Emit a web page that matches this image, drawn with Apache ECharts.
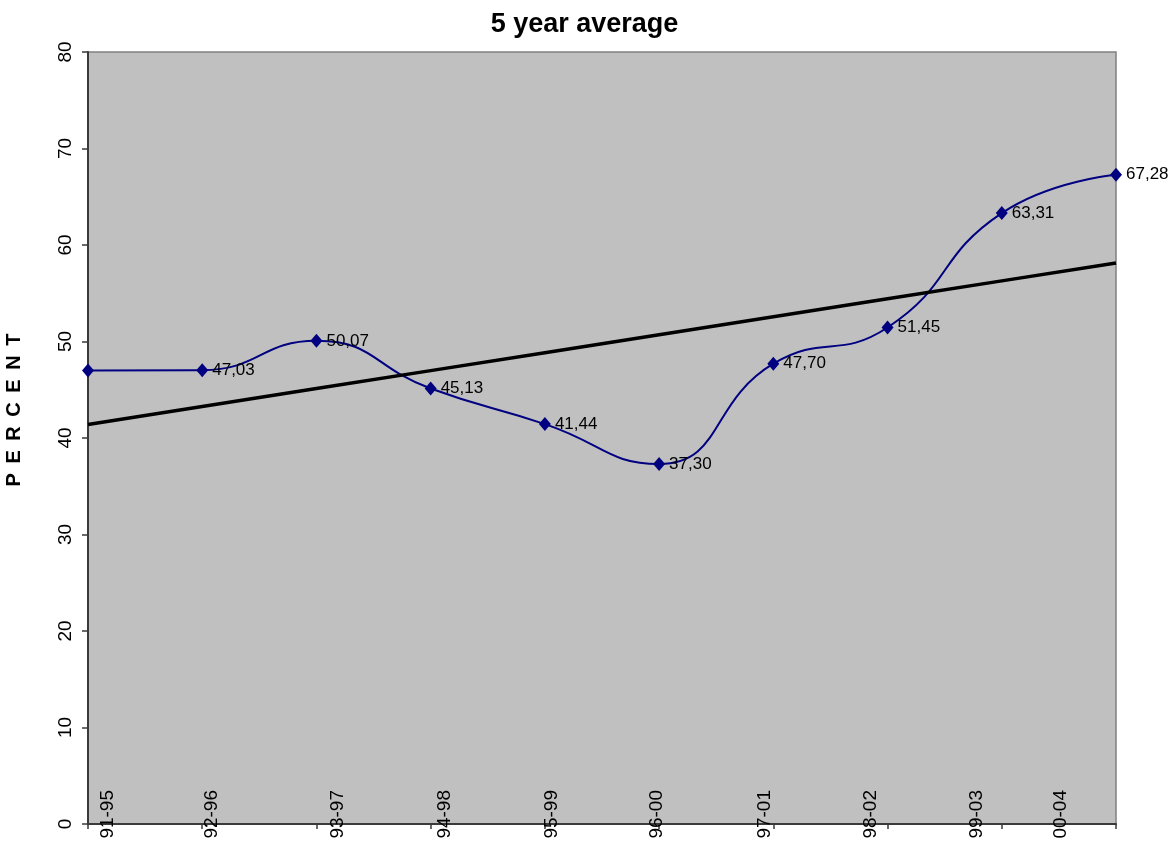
<!DOCTYPE html>
<html>
<head>
<meta charset="utf-8">
<script src="https://cdn.jsdelivr.net/npm/echarts@6/dist/echarts.min.js"></script>
<style>
  html, body { margin: 0; padding: 0; background: #ffffff; }
  #chart { width: 1169px; height: 843px; }
</style>
</head>
<body>
<div id="chart"></div>
<script>
// Rolling five-year periods
const categories = ['91-95', '92-96', '93-97', '94-98', '95-99', '96-00', '97-01', '98-02', '99-03', '00-04'];
// Five-year average, percent
const values = [47.00, 47.03, 50.07, 45.13, 41.44, 37.30, 47.70, 51.45, 63.31, 67.28];
// Value-axis range
const yMin = 0;
const yMax = 80;
const yStep = 10;

// Least-squares linear trend over the category index
function linearTrend(ys) {
  const n = ys.length;
  let sx = 0, sy = 0, sxx = 0, sxy = 0;
  ys.forEach((y, x) => { sx += x; sy += y; sxx += x * x; sxy += x * y; });
  const slope = (n * sxy - sx * sy) / (n * sxx - sx * sx);
  const intercept = (sy - slope * sx) / n;
  return ys.map((_, x) => intercept + slope * x);
}
const trend = linearTrend(values);

// Horizontal nudges of the period labels relative to their ticks (px, + = right)
const labelShift = [20, 10, 21, 14, 7, -2, -9, -17, -25, -55];
const FONT = '"Liberation Sans", Arial, sans-serif';
const rich = {};
labelShift.forEach((d, i) => {
  rich['c' + i] = {
    fontFamily: FONT,
    fontSize: 19,
    color: '#000',
    padding: d >= 0 ? [2 * d, 0, 0, 0] : [0, 0, -2 * d, 0]
  };
});

const chart = echarts.init(document.getElementById('chart'), null, { renderer: 'canvas' });
chart.setOption({
  animation: false,
  backgroundColor: '#ffffff',
  title: {
    text: '5 year average',
    left: 'center',
    top: 6,
    textStyle: { fontFamily: FONT, fontWeight: 'bold', fontSize: 27, color: '#000' }
  },
  grid: {
    left: 88, right: 53, top: 52, bottom: 19,
    show: true,
    backgroundColor: '#C0C0C0',
    borderColor: '#808080',
    borderWidth: 1.5,
    containLabel: false,
    outerBoundsMode: 'none'
  },
  xAxis: {
    type: 'category',
    data: categories,
    boundaryGap: false,
    axisLine: { show: true, lineStyle: { color: '#3a3a3a', width: 2 } },
    axisTick: { show: true, length: 5, inside: false, interval: 0, lineStyle: { color: '#3a3a3a', width: 1.5 } },
    axisLabel: {
      interval: 0,
      rotate: 90,
      margin: -34,
      fontFamily: FONT,
      fontSize: 19,
      color: '#000',
      formatter: (v, i) => '{c' + i + '|' + v + '}',
      rich: rich
    },
    splitLine: { show: false }
  },
  yAxis: {
    type: 'value',
    min: yMin,
    max: yMax,
    interval: yStep,
    name: 'P\u2009 E\u2009 R\u2009 C\u2009 E\u2009 N\u2009 T',
    nameLocation: 'middle',
    nameRotate: 90,
    nameGap: 64,
    nameTextStyle: {
      fontFamily: FONT, fontWeight: 'bold', fontSize: 20, color: '#000',
      padding: [0, 0, 0, 56]
    },
    axisLine: { show: true, lineStyle: { color: '#3a3a3a', width: 2 } },
    axisTick: { show: true, length: 6, inside: false, lineStyle: { color: '#3a3a3a', width: 1.5 } },
    axisLabel: {
      rotate: 90,
      margin: 13,
      fontFamily: FONT,
      fontSize: 19,
      color: '#000'
    },
    splitLine: { show: false }
  },
  series: [
    {
      name: '5 year average',
      type: 'line',
      data: values,
      smooth: 0.5,
      symbol: 'diamond',
      symbolSize: [12, 14],
      lineStyle: { color: '#000080', width: 2 },
      itemStyle: { color: '#000080' },
      label: {
        show: true,
        position: 'right',
        distance: 4,
        fontFamily: FONT,
        fontSize: 17,
        color: '#000',
        formatter: p => p.dataIndex === 0 ? '' : p.value.toFixed(2).replace('.', ',')
      },
      z: 2
    },
    {
      name: 'Linear trend',
      type: 'line',
      data: trend,
      smooth: false,
      symbol: 'none',
      lineStyle: { color: '#000', width: 3.5 },
      z: 3
    }
  ]
});
</script>
</body>
</html>
